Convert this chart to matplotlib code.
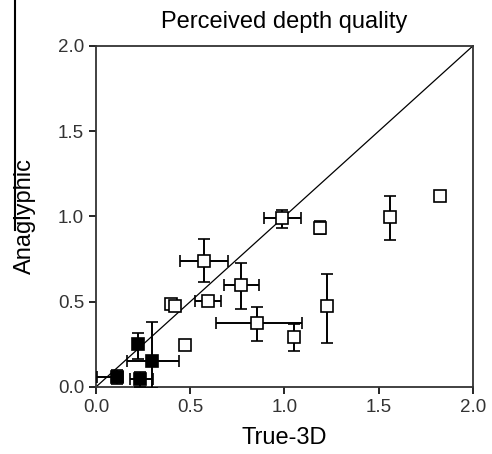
import matplotlib
matplotlib.use("Agg")
import matplotlib.pyplot as plt
from matplotlib.lines import Line2D

plt.rcParams['font.family'] = ['Liberation Sans', 'DejaVu Sans']

# open squares: x, y, x error (low, high), y error (low, high)
open_x = [0.99, 0.573, 0.769, 0.40, 0.418, 0.596, 0.856, 1.052, 1.224, 0.47, 1.19, 1.56, 1.828]
open_y = [0.99, 0.74, 0.60, 0.485, 0.475, 0.505, 0.377, 0.295, 0.475, 0.245, 0.935, 0.995, 1.12]
open_xlo = [0.10, 0.127, 0.09, 0.02, 0.02, 0.07, 0.22, 0.02, 0.0, 0.01, 0.015, 0.02, 0.015]
open_xhi = [0.10, 0.127, 0.097, 0.02, 0.03, 0.07, 0.235, 0.02, 0.0, 0.01, 0.015, 0.02, 0.015]
open_ylo = [0.06, 0.125, 0.14, 0.02, 0.02, 0.02, 0.107, 0.082, 0.215, 0.015, 0.04, 0.13, 0.02]
open_yhi = [0.05, 0.128, 0.13, 0.02, 0.02, 0.02, 0.09, 0.075, 0.19, 0.015, 0.04, 0.125, 0.02]

# filled squares
fill_x = [0.223, 0.30, 0.113, 0.233]
fill_y = [0.25, 0.154, 0.06, 0.047]
fill_xlo = [0.02, 0.134, 0.106, 0.053]
fill_xhi = [0.02, 0.14, 0.032, 0.071]
fill_ylo = [0.088, 0.16, 0.04, 0.047]
fill_yhi = [0.065, 0.225, 0.04, 0.043]

fig = plt.figure(figsize=(4.92, 4.54), dpi=100)
ax = fig.add_axes([0.195, 0.1476, 0.766, 0.7511])

ax.plot([0, 2], [0, 2], color='black', lw=0.9, zorder=1)

eb = dict(fmt='s', ms=8, ecolor='black', elinewidth=1.4, capsize=4,
          capthick=1.4, mec='black', mew=1.2, zorder=3)
ax.errorbar(open_x, open_y, xerr=[open_xlo, open_xhi], yerr=[open_ylo, open_yhi],
            mfc='white', **eb)
ax.errorbar(fill_x, fill_y, xerr=[fill_xlo, fill_xhi], yerr=[fill_ylo, fill_yhi],
            mfc='black', **eb)

ax.set_xlim(0, 2)
ax.set_ylim(0, 2)
ax.set_xticks([0, 0.5, 1.0, 1.5, 2.0])
ax.set_yticks([0, 0.5, 1.0, 1.5, 2.0])
ax.set_xticklabels(['0.0', '0.5', '1.0', '1.5', '2.0'])
ax.set_yticklabels(['0.0', '0.5', '1.0', '1.5', '2.0'])
ax.tick_params(direction='out', length=5, width=1.2, labelsize=13.5, color='black',
               labelcolor='#333333')
for s in ax.spines.values():
    s.set_linewidth(1.3)
    s.set_color('#333333')

ax.set_title('Perceived depth quality', fontsize=17, pad=13)
ax.set_xlabel('True-3D', fontsize=17, labelpad=8)
ax.set_ylabel('Anaglyphic', fontsize=17, labelpad=16)

# stray vertical line at the left edge of the original image
fig.add_artist(Line2D([0.0305, 0.0305], [1.0, 0.493], color='black', lw=1.5,
                      transform=fig.transFigure))

fig.savefig('out.png', dpi=100)
